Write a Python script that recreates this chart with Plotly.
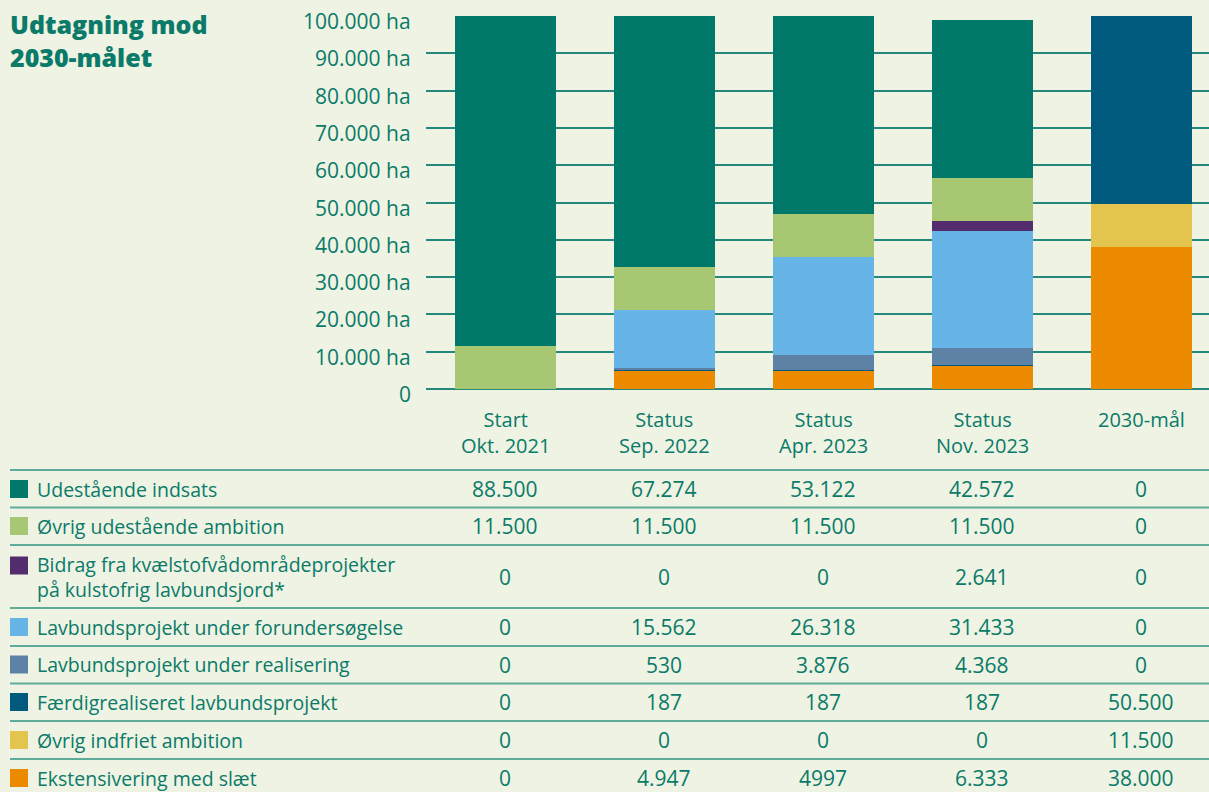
import plotly.graph_objects as go

# ---------------- data ----------------
categories = ["Start<br>Okt. 2021", "Status<br>Sep. 2022", "Status<br>Apr. 2023",
              "Status<br>Nov. 2023", "2030-mål"]

# series listed top-of-table to bottom-of-table
series_names = [
    "Udestående indsats",
    "Øvrig udestående ambition",
    "Bidrag fra kvælstofvådområdeprojekter<br>på kulstofrig lavbundsjord*",
    "Lavbundsprojekt under forundersøgelse",
    "Lavbundsprojekt under realisering",
    "Færdigrealiseret lavbundsprojekt",
    "Øvrig indfriet ambition",
    "Ekstensivering med slæt",
]
udestaaende_indsats = [88500, 67274, 53122, 42572, 0]
oevrig_udestaaende = [11500, 11500, 11500, 11500, 0]
bidrag_kvaelstof = [0, 0, 0, 2641, 0]
forundersoegelse = [0, 15562, 26318, 31433, 0]
realisering = [0, 530, 3876, 4368, 0]
faerdigrealiseret = [0, 187, 187, 187, 50500]
oevrig_indfriet = [0, 0, 0, 0, 11500]
ekstensivering = [0, 4947, 4997, 6333, 38000]
series_values = [udestaaende_indsats, oevrig_udestaaende, bidrag_kvaelstof,
                 forundersoegelse, realisering, faerdigrealiseret,
                 oevrig_indfriet, ekstensivering]
series_colors = ["#00796b", "#a8c773", "#532d6d", "#67b4e6",
                 "#5d82a6", "#005a7d", "#e3c44e", "#ec8b00"]
# table text as printed in the source (one value without thousands point)
text_overrides = {(7, 2): "4997"}

y_tick_vals = [0, 10000, 20000, 30000, 40000, 50000, 60000, 70000, 80000, 90000, 100000]
y_tick_text = ["0", "10.000 ha", "20.000 ha", "30.000 ha", "40.000 ha", "50.000 ha",
               "60.000 ha", "70.000 ha", "80.000 ha", "90.000 ha", "100.000 ha"]

title_text = "Udtagning mod<br>2030-målet"

# ---------------- styling ----------------
W, H = 1209, 792
BG = "#eef3e3"
TXT = "#0b7a69"
FONT = "Open Sans"
LABEL_SIZE = 19.5
NUM_SIZE = 21
TICK_SIZE = 21


def px(y):
    return 1 - y / H


def pxx(x):
    return x / W


def fmt(v):
    return f"{v:,}".replace(",", ".")


fig = go.Figure()
# stack from bottom (last table row) to top (first table row)
for i in reversed(range(len(series_names))):
    fig.add_trace(go.Bar(
        x=categories, y=series_values[i], name=series_names[i],
        marker=dict(color=series_colors[i], line=dict(width=0)),
        width=0.635, hoverinfo="skip"))

annotations = []
shapes = []

# title
annotations.append(dict(text=title_text, x=pxx(8), y=px(5), xref="paper", yref="paper",
                        xanchor="left", yanchor="top", align="left", showarrow=False,
                        font=dict(family=FONT, size=25, color=TXT, weight=800)))

# y tick labels
for v, t in zip(y_tick_vals, y_tick_text):
    annotations.append(dict(text=t, x=pxx(413), y=v, xref="paper", yref="y",
                            xanchor="right", yanchor="middle", yshift=-5, showarrow=False,
                            font=dict(family=FONT, size=TICK_SIZE, color=TXT)))

# category labels (top-aligned)
for c in categories:
    annotations.append(dict(text=c, x=c, y=px(404), xref="x", yref="paper",
                            xanchor="center", yanchor="top", showarrow=False,
                            font=dict(family=FONT, size=20, color=TXT)))

# table
line_ys = [470, 507.5, 545, 608, 646, 683.5, 721, 759]
row_centers = [489, 526, 576.5, 627, 664.5, 702, 740, 778]
square_centers = [489, 526, 565.5, 627, 664.5, 702, 740, 778]
for ly in line_ys:
    shapes.append(dict(type="line", xref="paper", yref="paper", x0=pxx(10), x1=1,
                       y0=px(ly), y1=px(ly), line=dict(color="#5eab99", width=2)))

for i, name in enumerate(series_names):
    sc = square_centers[i]
    shapes.append(dict(type="rect", xref="paper", yref="paper", x0=pxx(10), x1=pxx(28),
                       y0=px(sc + 9), y1=px(sc - 9), fillcolor=series_colors[i],
                       line=dict(width=0)))
    annotations.append(dict(text=name, x=pxx(35), y=px(row_centers[i]), xref="paper",
                            yref="paper", xanchor="left", yanchor="middle", align="left",
                            showarrow=False,
                            font=dict(family=FONT, size=LABEL_SIZE, color=TXT)))
    for j, c in enumerate(categories):
        t = text_overrides.get((i, j), fmt(series_values[i][j]))
        annotations.append(dict(text=t, x=c, y=px(row_centers[i]), xref="x", yref="paper",
                                xanchor="center", yanchor="middle", showarrow=False,
                                font=dict(family=FONT, size=NUM_SIZE, color=TXT)))

x_lo = -0.5
x_hi = x_lo + (W - 425.5) / 159.0

fig.update_layout(
    width=W, height=H, barmode="stack", showlegend=False,
    paper_bgcolor=BG, plot_bgcolor=BG,
    margin=dict(l=0, r=0, t=0, b=0),
    xaxis=dict(domain=[pxx(425.5), 1], range=[x_lo, x_hi], showticklabels=False,
               showgrid=False, zeroline=False, fixedrange=True),
    yaxis=dict(domain=[px(389), px(16)], range=[0, 100000], tickvals=y_tick_vals,
               showticklabels=False, showgrid=True, gridcolor="#24897a", gridwidth=2,
               zeroline=True, zerolinecolor="#24897a", zerolinewidth=2, fixedrange=True),
    annotations=annotations, shapes=shapes,
    bargap=0,
)

fig.write_html(
    "out.html",
    config={"displayModeBar": False},
    post_script=("document.body.style.margin='0';document.body.style.padding='0';"
                 "document.body.style.overflow='hidden';"
                 "document.body.style.background='" + BG + "';"),
)
